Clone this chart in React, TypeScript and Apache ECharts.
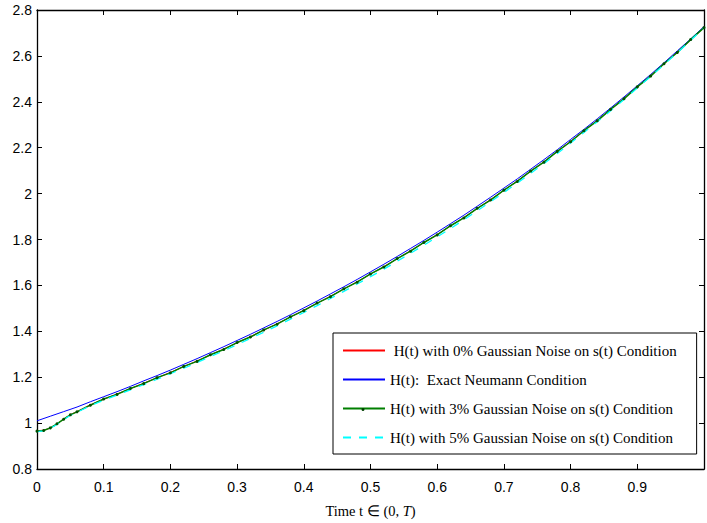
import React, { useEffect, useRef } from "react";
import * as echarts from "echarts";

const xTickLabels = ["0", "0.1", "0.2", "0.3", "0.4", "0.5", "0.6", "0.7", "0.8", "0.9"];

const tExact = [0, 0.02, 0.04, 0.06, 0.08, 0.1, 0.12, 0.14, 0.16, 0.18, 0.2, 0.22, 0.24, 0.26, 0.28, 0.3, 0.32, 0.34, 0.36, 0.38, 0.4, 0.42, 0.44, 0.46, 0.48, 0.5, 0.52, 0.54, 0.56, 0.58, 0.6, 0.62, 0.64, 0.66, 0.68, 0.7, 0.72, 0.74, 0.76, 0.78, 0.8, 0.82, 0.84, 0.86, 0.88, 0.9, 0.92, 0.94, 0.96, 0.98, 1.0];
const hExact = [1.01, 1.03, 1.05, 1.07, 1.093, 1.115, 1.137, 1.16, 1.184, 1.207, 1.231, 1.256, 1.281, 1.307, 1.333, 1.36, 1.387, 1.415, 1.443, 1.472, 1.502, 1.532, 1.563, 1.594, 1.626, 1.659, 1.692, 1.726, 1.761, 1.796, 1.832, 1.869, 1.906, 1.945, 1.984, 2.024, 2.064, 2.106, 2.148, 2.191, 2.236, 2.28, 2.326, 2.373, 2.421, 2.47, 2.519, 2.57, 2.622, 2.674, 2.728];

const tNoisy = [0, 0.01, 0.02, 0.03, 0.04, 0.05, 0.06, 0.08, 0.1, 0.12, 0.14, 0.16, 0.18, 0.2, 0.22, 0.24, 0.26, 0.28, 0.3, 0.32, 0.34, 0.36, 0.38, 0.4, 0.42, 0.44, 0.46, 0.48, 0.5, 0.52, 0.54, 0.56, 0.58, 0.6, 0.62, 0.64, 0.66, 0.68, 0.7, 0.72, 0.74, 0.76, 0.78, 0.8, 0.82, 0.84, 0.86, 0.88, 0.9, 0.92, 0.94, 0.96, 0.98, 1.0];
const h0 = [0.967, 0.969, 0.978, 0.995, 1.018, 1.037, 1.05, 1.08, 1.104, 1.127, 1.15, 1.174, 1.197, 1.221, 1.246, 1.271, 1.297, 1.323, 1.35, 1.377, 1.405, 1.433, 1.462, 1.492, 1.522, 1.553, 1.584, 1.616, 1.649, 1.682, 1.716, 1.751, 1.786, 1.822, 1.859, 1.896, 1.935, 1.974, 2.014, 2.055, 2.097, 2.139, 2.183, 2.228, 2.273, 2.319, 2.366, 2.415, 2.464, 2.514, 2.565, 2.617, 2.67, 2.724];
const h3 = [0.965, 0.968, 0.979, 0.997, 1.017, 1.036, 1.049, 1.078, 1.105, 1.125, 1.151, 1.172, 1.198, 1.219, 1.247, 1.269, 1.298, 1.321, 1.351, 1.375, 1.406, 1.431, 1.463, 1.49, 1.523, 1.551, 1.585, 1.614, 1.65, 1.68, 1.717, 1.749, 1.787, 1.82, 1.86, 1.894, 1.936, 1.972, 2.015, 2.053, 2.098, 2.137, 2.184, 2.226, 2.274, 2.317, 2.367, 2.413, 2.465, 2.512, 2.566, 2.615, 2.671, 2.723];
const h5 = [0.963, 0.966, 0.977, 0.994, 1.015, 1.034, 1.047, 1.076, 1.1, 1.122, 1.145, 1.168, 1.191, 1.215, 1.239, 1.264, 1.29, 1.315, 1.342, 1.369, 1.396, 1.424, 1.453, 1.482, 1.512, 1.543, 1.574, 1.606, 1.638, 1.671, 1.705, 1.74, 1.775, 1.811, 1.848, 1.886, 1.925, 1.964, 2.005, 2.046, 2.088, 2.131, 2.175, 2.22, 2.266, 2.313, 2.361, 2.41, 2.46, 2.51, 2.562, 2.614, 2.668, 2.722];

const seriesNames = [
  " H(t) with 0% Gaussian Noise on s(t) Condition",
  "H(t):  Exact Neumann Condition",
  "H(t) with 3% Gaussian Noise on s(t) Condition",
  "H(t) with 5% Gaussian Noise on s(t) Condition",
];

const pair = (t: number[], h: number[]) => t.map((v, i) => [v, h[i]]);

export default function App() {
  const ref = useRef<HTMLDivElement>(null);
  useEffect(() => {
    if (!ref.current) return;
    const chart = echarts.init(ref.current, undefined, { renderer: "svg" });
    const sans = "Liberation Sans";
    const serif = "Liberation Serif";
    const axisCommon = {
      type: "value" as const,
      axisLine: { show: true, onZero: false, lineStyle: { color: "#000", width: 1.3 } },
      axisTick: { show: true, inside: true, length: 5, lineStyle: { color: "#000", width: 1 } },
      splitLine: { show: false },
    };
    chart.setOption({
      animation: false,
      backgroundColor: "#fff",
      grid: { left: 37, top: 10, width: 670, height: 461, containLabel: false },
      xAxis: [
        {
          ...axisCommon,
          min: 0,
          max: 1,
          interval: 0.1,
          position: "bottom",
          axisLabel: {
            show: true,
            color: "#000",
            fontFamily: sans,
            fontSize: 14,
            margin: 11,
            formatter: (v: number) => {
              const i = Math.round(v * 10);
              return i < xTickLabels.length ? xTickLabels[i] : "";
            },
          },
          name: "Time t ∈ (0, {i|T})",
          nameLocation: "middle",
          nameGap: 34,
          nameTextStyle: {
            color: "#000",
            fontFamily: serif,
            fontSize: 14.5,
            rich: { i: { fontStyle: "italic", fontFamily: serif, fontSize: 14.5, color: "#000" } },
          },
        },
        {
          ...axisCommon,
          min: 0,
          max: 1,
          interval: 0.1,
          position: "top",
          axisLabel: { show: false },
        },
      ],
      yAxis: [
        {
          ...axisCommon,
          min: 0.8,
          max: 2.8,
          interval: 0.2,
          position: "left",
          axisLabel: { show: true, color: "#000", fontFamily: sans, fontSize: 14, margin: 5 },
        },
        {
          ...axisCommon,
          min: 0.8,
          max: 2.8,
          interval: 0.2,
          position: "right",
          axisLabel: { show: false },
        },
      ],
      legend: {
        orient: "vertical",
        left: 333,
        top: 333,
        itemWidth: 42,
        itemHeight: 14,
        itemGap: 14,
        padding: [10, 20, 9, 9],
        borderColor: "#000",
        borderWidth: 1,
        backgroundColor: "#fff",
        itemStyle: { opacity: 0 },
        textStyle: { fontFamily: serif, fontSize: 15, color: "#000" },
        data: seriesNames,
      },
      graphic: [
        { type: "circle", z: 100, shape: { cx: 363, cy: 409.5, r: 1.5 }, style: { fill: "#004000" } },
      ],
      series: [
        {
          name: seriesNames[0],
          type: "line",
          data: pair(tNoisy, h0),
          symbol: "none",
          lineStyle: { color: "#ff0000", width: 1 },
          itemStyle: { color: "#ff0000" },
        },
        {
          name: seriesNames[1],
          type: "line",
          data: pair(tExact, hExact),
          symbol: "none",
          lineStyle: { color: "#0000ff", width: 1 },
          itemStyle: { color: "#0000ff" },
        },
        {
          name: seriesNames[2],
          type: "line",
          data: pair(tNoisy, h3),
          symbol: "circle",
          symbolSize: 3,
          lineStyle: { color: "#007f00", width: 1.5 },
          itemStyle: { color: "#005000" },
        },
        {
          name: seriesNames[3],
          type: "line",
          data: pair(tNoisy, h5),
          symbol: "none",
          lineStyle: { color: "#00ffff", width: 1.3, type: [8, 8] },
          itemStyle: { color: "#00ffff" },
        },
      ],
    });
    return () => chart.dispose();
  }, []);
  return (
    <div
      ref={ref}
      style={{ position: "absolute", left: 0, top: 0, width: 707, height: 523 }}
    />
  );
}
